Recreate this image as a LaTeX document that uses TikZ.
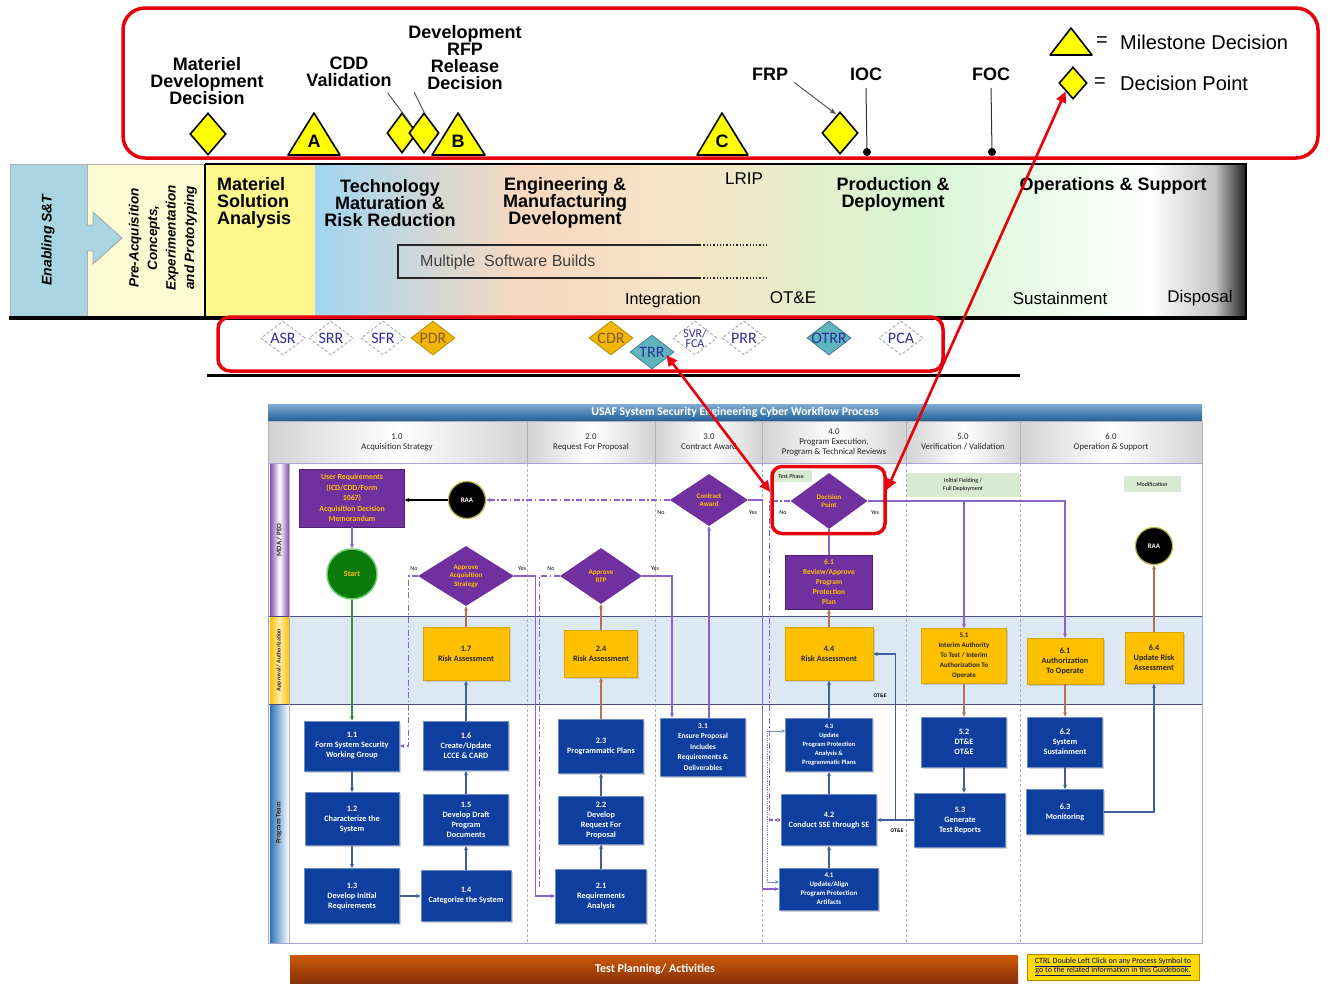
\documentclass[tikz,border=0pt]{standalone}
\usepackage{fontspec}
\setmainfont{Liberation Sans}
\newfontfamily\calib{Carlito}
\usetikzlibrary{shapes.geometric,arrows.meta,calc,shadows}
\newcommand\fsz[2]{\fontsize{#1}{#2}\selectfont}
\definecolor{msy}{HTML}{FFFF00}
\definecolor{ppl}{HTML}{7030A0}
\definecolor{por}{HTML}{FFC000}
\definecolor{pbl}{HTML}{0E3F9E}
\definecolor{laneblue}{HTML}{DCE8F4}
\definecolor{lnpurple}{HTML}{8A63C8}
\definecolor{lnbrown}{HTML}{B8704E}
\definecolor{lnblue}{HTML}{3E5E9C}
\definecolor{lngreen}{HTML}{3A8A3A}
\definecolor{revblue}{HTML}{30309A}
\definecolor{revgold}{HTML}{F2B705}
\definecolor{revteal}{HTML}{5DB5BE}
\definecolor{redl}{HTML}{E8000B}
\definecolor{enab}{HTML}{A9D4E2}
\definecolor{preacq}{HTML}{FDFBD4}
\definecolor{msa}{HTML}{FDF68C}
\definecolor{ga}{HTML}{A0D6F2}
\definecolor{gb}{HTML}{F8D8C0}
\definecolor{gc}{HTML}{F5E6C6}
\definecolor{gd}{HTML}{D6F6D2}
\definecolor{tpb}{HTML}{A13A0C}
\definecolor{titleb}{HTML}{2E75B6}
\definecolor{lgreen}{HTML}{D9EAD3}
\definecolor{startg}{HTML}{0B7A0B}
\definecolor{startb}{HTML}{6FCF6F}
\tikzset{
  mlab/.style={font=\bfseries\fsz{18}{17}, align=center},
  rlab/.style={font=\fsz{17}{17}},
  ydia/.style={diamond, draw=black, line width=1.6pt, fill=msy, minimum width=36, minimum height=42},
  ytri/.style={draw=black, line width=1.6pt, fill=msy, line join=round},
  tlet/.style={font=\bfseries\fsz{18}{18}},
  gline/.style={draw=gray!60!black, line width=0.9pt},
  rev/.style={diamond, draw=gray!75, densely dashed, line width=0.8pt, fill=white, minimum width=44, minimum height=34},
  revtxt/.style={font=\calib\fsz{16}{12}, text=revblue, align=center},
  revg/.style={rev, solid, fill=revgold, draw=revgold!75!black},
  revgtxt/.style={revtxt, text=brown!70!black},
  revt/.style={rev, solid, fill=revteal, draw=revteal!70!black},
  redbox/.style={draw=redl, line width=3.5pt, rounded corners=22},
  redarr/.style={draw=redl, line width=2.6pt, {Triangle[length=11pt,width=10pt]}-{Triangle[length=11pt,width=10pt]}},
  wtxt/.style={font=\calib\bfseries\fsz{8.2}{10}, align=center},
  pbox/.style={wtxt, rectangle, fill=ppl, draw=ppl!70!black, text=por},
  bbox/.style={wtxt, rectangle, fill=pbl, draw=pbl!60!white, line width=0.8pt, text=white, drop shadow={opacity=0.35, shadow xshift=1.5pt, shadow yshift=-1.5pt}},
  obox/.style={wtxt, rectangle, fill=por, draw=por!85!black, text=black!85, drop shadow={opacity=0.3, shadow xshift=1.5pt, shadow yshift=-1.5pt}},
  pdia/.style={wtxt, diamond, fill=ppl, text=por, font=\calib\bfseries\fsz{7}{8.5}},
  raa/.style={circle, fill=black, draw=yellow!70!black, line width=1.2pt, minimum size=37, text=white, font=\calib\bfseries\fsz{7}{8}},
  yn/.style={font=\calib\fsz{6}{6}},
  hdr/.style={font=\calib\fsz{8.8}{10}, align=center, text=black!85},
  lanelab/.style={rotate=90, font=\calib\bfseries\fsz{7}{7}, text=black!85},
  glbl/.style={fill=lgreen, font=\calib\fsz{6}{7.5}, align=center},
  arr/.style={line width=1.2pt, -{Stealth[length=4.5pt,width=4pt]}},
  arP/.style={arr, draw=lnpurple},
  arPd/.style={arP, dash pattern=on 6pt off 2.5pt on 1.5pt off 2.5pt},
  arB/.style={arr, draw=lnblue},
  arO/.style={arr, draw=lnbrown},
  arG/.style={arr, draw=lngreen},
  arK/.style={arr, draw=black},
  coldiv/.style={draw=gray!60, dash pattern=on 3pt off 2pt, line width=0.7pt},
}
\begin{document}
\begin{tikzpicture}[x=1pt,y=-1pt, every node/.style={inner sep=0pt}]
\useasboundingbox (0,0) rectangle (1330,983);
\fill[white] (0,0) rectangle (1330,983);

%% ===== acquisition band =====
\fill[enab] (10,165) rectangle (87,316);
\fill[preacq] (87,165) rectangle (205,316);
\fill[msa] (205,165) rectangle (315,316);
\shade[left color=ga, right color=gb] (315,165) rectangle (520,316);
\shade[left color=gb, right color=gc] (519.5,165) rectangle (700,316);
\shade[left color=gc, right color=gd] (699.5,165) rectangle (920,316);
\shade[left color=gd, right color=white] (919.5,165) rectangle (1150,316);
\shade[left color=white, right color=gray!45] (1149.5,165) rectangle (1215,316);
\shade[left color=gray!45, right color=black!85] (1214.5,165) rectangle (1245,316);
\draw[gray!60, line width=0.8pt] (10,318) -- (10,164) -- (205,164);
\draw[gray!60, line width=0.8pt] (87,164) -- (87,318);
\draw[line width=2pt] (205,164) -- (1246,164) -- (1246,318);
\draw[line width=1.5pt] (205,164) -- (205,318);
\draw[line width=4pt] (9,318) -- (1247,318);
\draw[fill=enab, draw=gray!70, line width=0.8pt] (86,225) -- (93,225) -- (93,212) -- (122,238) -- (93,264) -- (93,251) -- (86,251);
\node[rotate=90, font=\bfseries\itshape\fsz{14}{14}] (enT) at (48,240) {Enabling S\&T};
\node[rotate=90, align=center, font=\bfseries\itshape\fsz{13.5}{18.5}] (paT) at (163,238) {Pre-Acquisition\\Concepts,\\Experimentation\\and Prototyping};
\node[anchor=west, align=left, font=\bfseries\fsz{18}{17}] (msaT) at (217,203) {Materiel\\Solution\\Analysis};
\node[mlab] (tmrr) at (390,203) {Technology\\Maturation \&\\Risk Reduction};
\node[mlab] (emd) at (565,203) {Engineering \&\\Manufacturing\\Development};
\node[rlab] (lrip) at (744,179) {LRIP};
\node[mlab] (pd) at (893,194) {Production \&\\Deployment};
\node[mlab] (os) at (1113,186) {Operations \& Support};
\draw[gray!30!black, line width=1.3pt] (700,245) -- (398,245) -- (398,278) -- (700,278);
\draw[gray!30!black, dotted, line width=1.3pt] (700,245) -- (768,245) (700,278) -- (768,278);
\node[anchor=west, font=\fsz{16}{16}, text=black!75] (msb) at (420,262) {Multiple\ \ Software Builds};
\node[rlab, font=\fsz{16}{16}] (integ) at (663,300) {Integration};
\node[rlab] (ote) at (793,298) {OT\&E};
\node[rlab] (sust) at (1060,298) {Sustainment};
\node[rlab] (disp) at (1200,298) {Disposal};

%% ===== milestones =====
\node[mlab] (mddT) at (207,81) {Materiel\\Development\\Decision};
\node[ydia] (mdd) at (208,134) {};
\draw[ytri] (288,155) -- (314,113) -- (340,155) -- cycle;
\node[tlet] (tA) at (314,141) {A};
\node[mlab] (cddT) at (349,72) {CDD\\Validation};
\node[ydia, minimum width=30, minimum height=40] (cdd) at (402,133) {};
\node[ydia, minimum width=30, minimum height=40] (rfp) at (424,133) {};
\draw[ytri] (432,155) -- (458,113) -- (485,155) -- cycle;
\node[tlet] (tB) at (458,141) {B};
\node[mlab] (rfpT) at (465,58) {Development\\RFP\\Release\\Decision};
\draw[gline] ($(cddT.south east)+(-4,6)$) -- (cdd.north east);
\draw[gline] ($(rfpT.south west)+(6,2)$) -- (rfp.north);
\draw[ytri] (697,155) -- (722,113) -- (748,155) -- cycle;
\node[tlet] (tC) at (722,141) {C};
\node[mlab] (frpT) at (770,74) {FRP};
\node[ydia] (frp) at (840,133) {};
\draw[gline, -{Stealth[length=7pt,width=5pt]}] ($(frpT.south east)+(6,2)$) -- ($(frp.north)+(-4,3)$);
\node[mlab] (iocT) at (866,74) {IOC};
\coordinate (ioc) at (867,152);
\draw[gray!40!black, line width=1pt] (iocT.south |- 0,88) -- (ioc);
\fill (ioc) circle (4);
\node[mlab] (focT) at (991,74) {FOC};
\coordinate (foc) at (992,152);
\draw[gray!40!black, line width=1pt] (focT.south |- 0,88) -- (foc);
\fill (foc) circle (4);
\draw[ytri] (1050,55) -- (1071,28) -- (1092,55) -- cycle;
\node[font=\fsz{20}{20}] (eq1) at (1102,42) {=};
\node[anchor=west, font=\fsz{20}{20}] (lg1) at (1120,42) {Milestone Decision};
\node[ydia, minimum width=28, minimum height=32] (ldp) at (1073,83) {};
\node[font=\fsz{20}{20}] (eq2) at (1100,83) {=};
\node[anchor=west, font=\fsz{20}{20}] (lg2) at (1120,83) {Decision Point};
\draw[redbox] (123,8) rectangle (1318,158);

%% ===== technical reviews =====
\node[rev, label={[revtxt]center:ASR}] (asr) at (283,338) {};
\node[rev, label={[revtxt]center:SRR}] (srr) at (331,338) {};
\node[rev, label={[revtxt]center:SFR}] (sfr) at (383,338) {};
\node[revg, label={[revgtxt]center:PDR}] (pdr) at (433,338) {};
\node[revg, label={[revgtxt]center:CDR}] (cdr) at (611,338) {};
\node[revt, label={[revtxt]center:TRR}] (trr) at (652,352) {};
\node[rev, label={[revtxt, font=\calib\fsz{12}{10}]center:SVR/\\FCA}] (svr) at (695,338) {};
\node[rev, label={[revtxt]center:PRR}] (prr) at (744,338) {};
\node[revt, label={[revtxt]center:OTRR}] (otrr) at (829,338) {};
\node[rev, label={[revtxt]center:PCA}] (pca) at (901,338) {};
\draw[redbox, rounded corners=12] (218,317) rectangle (943,371);
\draw[line width=3pt] (207,375) -- (1020,375);

%% ===== workflow frame =====
\shade[top color=titleb!60!white, bottom color=titleb!85!black] (268,404) rectangle (1202,420);
\node[font=\calib\bfseries\fsz{11.8}{11}, text=white] (ttl) at (735,412) {USAF System Security Engineering Cyber Workflow Process};
\foreach \a/\b in {268/527,527/655,655/762,762/906,906/1020,1020/1202}{
  \shade[left color=gray!35, right color=gray!35, middle color=white] (\a,421) rectangle (\b,463);
  \draw[gray!60, line width=0.6pt] (\a,421) rectangle (\b,463);
}
\node[hdr] (h1) at (397,442) {1.0\\Acquisition Strategy};
\node[hdr] (h2) at (591,442) {2.0\\Request For Proposal};
\node[hdr] (h3) at (709,442) {3.0\\Contract Award};
\node[hdr] (h4) at (834,442) {4.0\\Program Execution,\\Program \& Technical Reviews};
\node[hdr] (h5) at (963,442) {5.0\\Verification / Validation};
\node[hdr] (h6) at (1111,442) {6.0\\Operation \& Support};
\fill[laneblue] (290,616) rectangle (1202,704);
\shade[left color=ppl!85, right color=ppl!85, middle color=white] (270,464) rectangle (289,615);
\shade[left color=por, right color=por, middle color=por!30] (270,617) rectangle (289,703);
\shade[left color=titleb, right color=white] (270,705) rectangle (289,942);
\node[lanelab] (l1) at (279,540) {MDA / PEO};
\node[lanelab, font=\calib\bfseries\fsz{6}{6}] (l2) at (279,660) {Approval / Authorization};
\node[lanelab] (l3) at (279,823) {Program Team};
\foreach \x in {527,655,762,906,1020}{ \draw[coldiv] (\x,464) -- (\x,942); }
\draw[black!50!blue!40!gray, line width=1pt] (268,616) -- (1202,616) (268,704) -- (1202,704);
\draw[gray!60!blue!50, line width=1pt] (268,463) rectangle (1202,943);
\draw[gray!60, line width=0.6pt] (289,463) -- (289,943);

%% labels in MDA lane
\node[glbl, minimum width=42, minimum height=12] (tph) at (791,476) {Test Phase};
\node[glbl, minimum width=113, minimum height=24] (ifd) at (963,485) {Initial Fielding /\\Full Deployment};
\node[glbl, minimum width=57, minimum height=16] (modf) at (1152,484) {Modification};

%% ===== workflow nodes =====
\node[pbox, minimum width=105, minimum height=58, font=\calib\bfseries\fsz{7.8}{10.5}] (ur) at (352,498) {User Requirements\\(ICD/CDD/Form\\1067)\\Acquisition Decision\\Memorandum};
\node[raa] (raa1) at (467,500) {RAA};
\node[circle, fill=startg, draw=startb, line width=1.5pt, minimum size=50, text=por, font=\calib\bfseries\fsz{8}{8}] (start) at (352,574) {Start};
\node[pdia, minimum width=96, minimum height=60] (aas) at (466,576) {Approve\\Acquisition\\Strategy};
\node[pdia, minimum width=82, minimum height=56] (arfp) at (601,576) {Approve\\RFP};
\node[pdia, minimum width=78, minimum height=52] (ca) at (709,500) {Contract\\Award};
\node[pdia, minimum width=77, minimum height=56] (dp) at (829,501) {Decision\\Point};
\node[pbox, minimum width=87, minimum height=54, font=\calib\bfseries\fsz{7.5}{10}] (p61) at (829,582) {6.1\\Review/Approve\\Program\\Protection\\Plan};
\node[raa] (raa2) at (1154,546) {RAA};

\node[obox, minimum width=86, minimum height=53] (r17) at (466,654) {1.7\\Risk Assessment};
\node[obox, minimum width=73, minimum height=47] (r24) at (601,654) {2.4\\Risk Assessment};
\node[obox, minimum width=88, minimum height=53] (r44) at (829,654) {4.4\\Risk Assessment};
\node[obox, minimum width=85, minimum height=55, font=\calib\bfseries\fsz{7}{10}] (r51) at (964,656) {5.1\\Interim Authority\\To Test / Interim\\Authorization To\\Operate};
\node[obox, minimum width=76, minimum height=46] (r61) at (1065,661) {6.1\\Authorization\\To Operate};
\node[obox, minimum width=58, minimum height=51] (r64) at (1154,658) {6.4\\Update Risk\\Assessment};

\node[bbox, minimum width=95, minimum height=50] (p11) at (352,746) {1.1\\Form System Security\\Working Group};
\node[bbox, minimum width=94, minimum height=53] (p12) at (352,819) {1.2\\Characterize the\\System};
\node[bbox, minimum width=95, minimum height=55] (p13) at (352,896) {1.3\\Develop Initial\\Requirements};
\node[bbox, minimum width=90, minimum height=51] (p14) at (466,896) {1.4\\Categorize the System};
\node[bbox, minimum width=85, minimum height=51] (p15) at (466,820) {1.5\\Develop Draft\\Program\\Documents};
\node[bbox, minimum width=85, minimum height=49] (p16) at (466,746) {1.6\\Create/Update\\LCCE \& CARD};
\node[bbox, minimum width=91, minimum height=54] (p21) at (601,896) {2.1\\Requirements\\Analysis};
\node[bbox, minimum width=85, minimum height=48] (p22) at (601,820) {2.2\\Develop\\Request For\\Proposal};
\node[bbox, minimum width=85, minimum height=54] (p23) at (601,746) {2.3\\Programmatic Plans};
\node[bbox, minimum width=85, minimum height=58, font=\calib\bfseries\fsz{7.5}{10.5}] (p31) at (703,747) {3.1\\Ensure Proposal\\Includes\\Requirements \&\\Deliverables};
\node[bbox, minimum width=99, minimum height=42, font=\calib\bfseries\fsz{7}{9}] (p41) at (829,889) {4.1\\Update/Align\\Program Protection\\Artifacts};
\node[bbox, minimum width=95, minimum height=51] (p42) at (829,820) {4.2\\Conduct SSE through SE};
\node[bbox, minimum width=87, minimum height=53, font=\calib\bfseries\fsz{6.5}{9}] (p43) at (829,745) {4.3\\Update\\Program Protection\\Analysis \&\\Programmatic Plans};
\node[bbox, minimum width=85, minimum height=50] (p52) at (964,742) {5.2\\DT\&E\\OT\&E};
\node[bbox, minimum width=91, minimum height=54] (p53) at (960,820) {5.3\\Generate\\Test Reports};
\node[bbox, minimum width=75, minimum height=50] (p62) at (1065,742) {6.2\\System\\Sustainment};
\node[bbox, minimum width=77, minimum height=45] (p63) at (1065,812) {6.3\\Monitoring};

%% yes / no
\node[yn] (n1) at (414,569) {No};
\node[yn] (y1) at (522,569) {Yes};
\node[yn] (n2) at (551,569) {No};
\node[yn] (y2) at (655,569) {Yes};
\node[yn] (n3) at (661,513) {No};
\node[yn] (y3) at (753,513) {Yes};
\node[yn] (n4) at (783,513) {No};
\node[yn] (y4) at (875,513) {Yes};
\node[yn, font=\calib\bfseries\fsz{5.5}{6}] (ot1) at (897,831) {OT\&E};
\node[yn, font=\calib\bfseries\fsz{5.5}{6}] (ot2) at (880,696) {OT\&E};

%% ===== connectors =====
\draw[arK] (raa1.west) -- (raa1.west -| ur.east);
\draw[arPd] (ca.west) -- (ca.west -| raa1.east);
\draw[arP] (ur.south) -- (ur.south |- start.north);
\draw[arG] (start.south) -- (start.south |- p11.north);
\draw[arB] (p11.south) -- (p11.south |- p12.north);
\draw[arB] (p12.south) -- (p12.south |- p13.north);
\draw[arB] (p13.east) -- (p13.east -| p14.west);
\draw[arB] (p14.north) -- (p14.north |- p15.south);
\draw[arB] (p15.north) -- (p15.north |- p16.south);
\draw[arB] (p16.north) -- (p16.north |- r17.south);
\draw[arO] (r17.north) -- (r17.north |- aas.south);
\draw[arPd] (aas.west) -- ++(-9,0) |- (p11.east);
\draw[arP] (aas.east) -- ++(21,0) |- (p21.west);
\draw[lnpurple, line width=1.2pt, dash pattern=on 6pt off 2.5pt on 1.5pt off 2.5pt] (arfp.west) -- ++(-20,0) -- ++(0,312);
\draw[arB] (p21.north) -- (p21.north |- p22.south);
\draw[arB] (p22.north) -- (p22.north |- p23.south);
\draw[arO] (p23.north) -- (p23.north |- r24.south);
\draw[arO] (r24.north) -- (r24.north |- arfp.south);
\draw[arP] (arfp.east) -| ($(p31.north)+(-31,0)$);
\draw[arP] (ca.south |- p31.north) -- (ca.south);
\draw[arP] (ca.east) -- ++(14,0) |- (p41.west);
\draw[arPd] (dp.west) -- ++(-21,0) |- (p42.west);
\coordinate (bd1) at (767,731);
\coordinate (bd2) at (767,882);
\draw[lnblue!70, densely dotted, line width=0.8pt] (bd1) -- (bd2);
\draw[lnblue!70, line width=0.8pt, -{Stealth[length=4pt,width=3.5pt]}] (bd1) -- (bd1 -| p43.west);
\draw[lnblue!70, line width=0.8pt, -{Stealth[length=4pt,width=3.5pt]}] (bd2) -- (bd2 -| p41.west);
\draw[lnpurple, line width=1.2pt] (dp.south) -- (p61.north);
\draw[arO] (r44.north) -- (r44.north |- p61.south);
\draw[arB] (p43.north) -- (p43.north |- r44.south);
\draw[arB] (p42.north) -- (p42.north |- p43.south);
\draw[arB] (p41.north) -- (p41.north |- p42.south);
\draw[arB] (p53.west) -- (p53.west -| p42.east);
\draw[arB] ($(p53.west)+(-19,0)$) |- (r44.east);
\draw[arP] (dp.east) -| (r61.north);
\draw[arP] (dp.east -| r51.north) -- (r51.north);
\draw[arO] (r51.south) -- (r51.south |- p52.north);
\draw[arB] (p52.south) -- (p52.south |- p53.north);
\draw[arO] (r61.south) -- (r61.south |- p62.north);
\draw[arB] (p62.south) -- (p62.south |- p63.north);
\draw[arB] (p63.east) -| (r64.south);
\draw[arO] (r64.north) -- (r64.north |- raa2.south);

%% ===== bottom bar =====
\shade[top color=tpb!55!orange, bottom color=tpb!85!black] (290,955) rectangle (1018,983);
\node[font=\calib\bfseries\fsz{12}{12}, text=white] (tpl) at (655,969) {Test Planning/ Activities};
\node[fill=por!55!yellow, draw=por!70!black, minimum width=172, minimum height=26, align=center, text=blue!40!black, font=\calib\fsz{8}{9.5}] (ctrl) at (1113,967) {\underline{CTRL Double Left Click on any Process Symbol to}\\\underline{go to the related information in this Guidebook.}};

%% ===== red highlights =====
\node[draw=redl, line width=3.5pt, rounded corners=10, minimum width=113, minimum height=67] (dpbox) at (828.5,500) {};
\draw[redarr] ($(trr.east)+(-8,3)$) -- ($(dpbox.west)+(0,-8)$);
\draw[redarr] ($(dpbox.east)+(0,-10)$) -- (ldp.south west);
\end{tikzpicture}
\end{document}
